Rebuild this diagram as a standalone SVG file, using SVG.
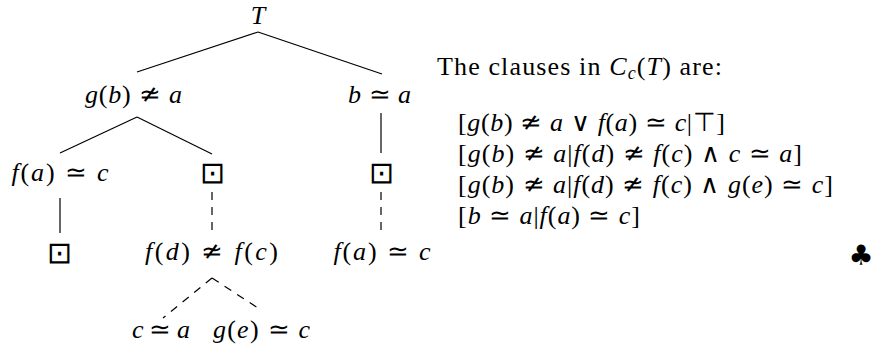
<svg xmlns="http://www.w3.org/2000/svg" width="877" height="350" viewBox="0 0 877 350">
<style>
.m{font-family:"Liberation Serif","DejaVu Serif",serif;font-size:26px;fill:#000}
.i{font-style:italic}
.s{font-family:"DejaVu Sans",sans-serif;font-weight:200;font-style:normal}
.box{font-family:"DejaVu Sans",sans-serif;font-weight:200;font-size:30px;fill:#000}
.club{font-family:"DejaVu Sans",sans-serif;font-size:28px;fill:#000}
.e{stroke:#000;stroke-width:1.2;fill:none}
.d{stroke:#000;stroke-width:1.2;fill:none;stroke-dasharray:8 7}
</style>
<rect width="877" height="350" fill="#fff"/>
<g id="connectors">
<line class="e" x1="258" y1="32" x2="137" y2="72"/>
<line class="e" x1="258" y1="32" x2="382" y2="74"/>
<line class="e" x1="137" y1="117" x2="60" y2="153"/>
<line class="e" x1="137" y1="117" x2="212" y2="154"/>
<line class="e" x1="381" y1="113" x2="381" y2="153"/>
<line class="e" x1="60" y1="198" x2="60" y2="233"/>
<line class="d" x1="212" y1="192" x2="212" y2="232"/>
<line class="d" x1="381" y1="192" x2="381" y2="232"/>
<line class="d" x1="212" y1="278" x2="163" y2="318"/>
<line class="d" x1="212" y1="278" x2="258" y2="308"/>
</g>
<g id="n-root"><text class="m i" x="258" y="24" text-anchor="middle">T</text></g>
<g id="n-gb"><text class="m" x="133.5" y="103" text-anchor="middle" textLength="97" lengthAdjust="spacing"><tspan class="i">g</tspan>(<tspan class="i">b</tspan>) <tspan class="s">≄</tspan> <tspan class="i">a</tspan></text></g>
<g id="n-ba"><text class="m" x="379.5" y="103" text-anchor="middle" textLength="63" lengthAdjust="spacing"><tspan class="i">b</tspan> <tspan class="s">≃</tspan> <tspan class="i">a</tspan></text></g>
<g id="n-fa1"><text class="m" x="60" y="181" text-anchor="middle" textLength="97" lengthAdjust="spacing"><tspan class="i">f</tspan>(<tspan class="i">a</tspan>) <tspan class="s">≃</tspan> <tspan class="i">c</tspan></text></g>
<g id="n-box1"><text class="box" x="212.5" y="183" text-anchor="middle">⊡</text></g>
<g id="n-box2"><text class="box" x="381" y="183" text-anchor="middle">⊡</text></g>
<g id="n-box3"><text class="box" x="59" y="263" text-anchor="middle">⊡</text></g>
<g id="n-fd"><text class="m" x="211.5" y="260" text-anchor="middle" textLength="133" lengthAdjust="spacing"><tspan class="i">f</tspan>(<tspan class="i">d</tspan>) <tspan class="s">≄</tspan> <tspan class="i">f</tspan>(<tspan class="i">c</tspan>)</text></g>
<g id="n-fa2"><text class="m" x="382" y="260" text-anchor="middle" textLength="97" lengthAdjust="spacing"><tspan class="i">f</tspan>(<tspan class="i">a</tspan>) <tspan class="s">≃</tspan> <tspan class="i">c</tspan></text></g>
<g id="n-ca"><text class="m" x="161" y="338" text-anchor="middle" textLength="58" lengthAdjust="spacing"><tspan class="i">c</tspan> <tspan class="s">≃</tspan> <tspan class="i">a</tspan></text></g>
<g id="n-ge"><text class="m" x="261.5" y="338" text-anchor="middle" textLength="97" lengthAdjust="spacing"><tspan class="i">g</tspan>(<tspan class="i">e</tspan>) <tspan class="s">≃</tspan> <tspan class="i">c</tspan></text></g>
<g id="clauses">
<text class="m" x="437" y="75" textLength="285" lengthAdjust="spacing">The clauses in <tspan class="i">C</tspan><tspan class="i" font-size="18" dy="4">c</tspan><tspan dy="-4">(</tspan><tspan class="i">T</tspan>) are:</text>
<text class="m" x="458" y="131" textLength="267" lengthAdjust="spacing">[<tspan class="i">g</tspan>(<tspan class="i">b</tspan>) <tspan class="s">≄</tspan> <tspan class="i">a</tspan> <tspan class="s">∨</tspan> <tspan class="i">f</tspan>(<tspan class="i">a</tspan>) <tspan class="s">≃</tspan> <tspan class="i">c</tspan>|<tspan class="s">⊤</tspan>]</text>
<text class="m" x="458" y="162" textLength="344" lengthAdjust="spacing">[<tspan class="i">g</tspan>(<tspan class="i">b</tspan>) <tspan class="s">≄</tspan> <tspan class="i">a</tspan>|<tspan class="i">f</tspan>(<tspan class="i">d</tspan>) <tspan class="s">≄</tspan> <tspan class="i">f</tspan>(<tspan class="i">c</tspan>) <tspan class="s">∧</tspan> <tspan class="i">c</tspan> <tspan class="s">≃</tspan> <tspan class="i">a</tspan>]</text>
<text class="m" x="458" y="193" textLength="375" lengthAdjust="spacing">[<tspan class="i">g</tspan>(<tspan class="i">b</tspan>) <tspan class="s">≄</tspan> <tspan class="i">a</tspan>|<tspan class="i">f</tspan>(<tspan class="i">d</tspan>) <tspan class="s">≄</tspan> <tspan class="i">f</tspan>(<tspan class="i">c</tspan>) <tspan class="s">∧</tspan> <tspan class="i">g</tspan>(<tspan class="i">e</tspan>) <tspan class="s">≃</tspan> <tspan class="i">c</tspan>]</text>
<text class="m" x="458" y="224" textLength="182" lengthAdjust="spacing">[<tspan class="i">b</tspan> <tspan class="s">≃</tspan> <tspan class="i">a</tspan>|<tspan class="i">f</tspan>(<tspan class="i">a</tspan>) <tspan class="s">≃</tspan> <tspan class="i">c</tspan>]</text>
</g>
<g id="club"><text class="club" x="861" y="265" text-anchor="middle">♣</text></g>
</svg>
